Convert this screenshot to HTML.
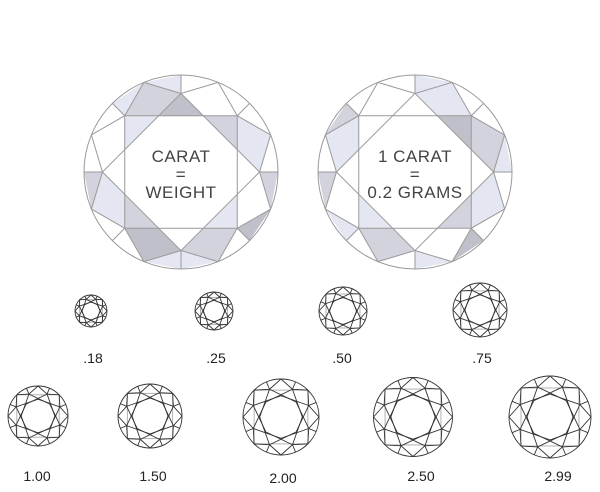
<!DOCTYPE html>
<html><head><meta charset="utf-8">
<style>
html,body{margin:0;padding:0;background:#fff;}
svg{display:block}
.lbl{font-family:"Liberation Sans",sans-serif;font-size:14px;fill:#222;text-anchor:middle}
.big{font-family:"Liberation Sans",sans-serif;font-size:17px;fill:#444;text-anchor:middle;letter-spacing:0.5px}
</style></head><body>
<svg id="s" width="600" height="492" viewBox="0 0 600 492" xmlns="http://www.w3.org/2000/svg">
<g id="g"></g>
<text class="big" x="181" y="162">CARAT</text>
<text class="big" x="181" y="180">=</text>
<text class="big" x="181" y="198">WEIGHT</text>
<text class="big" x="415" y="162">1 CARAT</text>
<text class="big" x="415" y="180">=</text>
<text class="big" x="415" y="198">0.2 GRAMS</text>
<text class="lbl" x="93" y="363">.18</text>
<text class="lbl" x="216" y="363">.25</text>
<text class="lbl" x="342" y="363">.50</text>
<text class="lbl" x="482" y="363">.75</text>
<text class="lbl" x="37" y="481">1.00</text>
<text class="lbl" x="153" y="481">1.50</text>
<text class="lbl" x="283" y="483">2.00</text>
<text class="lbl" x="421" y="481">2.50</text>
<text class="lbl" x="558" y="481">2.99</text>
</svg>
<script>
var g=document.getElementById('g');var NS='http://www.w3.org/2000/svg';
function el(t,a){var e=document.createElementNS(NS,t);for(var k in a)e.setAttribute(k,a[k]);g.appendChild(e);return e;}
function P(pts){return pts.map(function(p){return p[0].toFixed(2)+','+p[1].toFixed(2)}).join(' ');}
function pol(cx,cy,rad,deg){var a=deg*Math.PI/180;return [cx+rad*Math.sin(a),cy-rad*Math.cos(a)];}
function diamond(cx,cy,r,stroke,sw,fills){
 var s=0.58*r,d=0.81*r;
 function C(deg){return pol(cx,cy,r,deg);}
 function V(i){if(i%2==0)return pol(cx,cy,d,i*45);return pol(cx,cy,s*Math.SQRT2,i*45);}
 function I(i){var rr=Math.sqrt(s*s+(d-s)*(d-s));return pol(cx,cy,rr,i*45+22.5);}
 var shapes={
  K:function(i){return [V(i),C(i*45+22.5),V((i+1)%8),I(i)];},
  GL:function(i){return [V(i),C(i*45),C(i*45-22.5)];},
  GR:function(i){return [V(i),C(i*45),C(i*45+22.5)];},
  T:function(i){return [V(i),I(i),I((i+7)%8)];}
 };
 (fills||[]).forEach(function(f){el('polygon',{points:P(shapes[f[0]](f[1])),fill:f[2],stroke:'none'});});
 var o={fill:'none',stroke:stroke,'stroke-width':sw};
 el('circle',Object.assign({cx:cx,cy:cy,r:r},o));
 el('rect',Object.assign({x:cx-s,y:cy-s,width:2*s,height:2*s},o));
 el('polygon',Object.assign({points:P([V(0),V(2),V(4),V(6)])},o));
 for(var i=0;i<8;i++){var v=V(i);
  el('polyline',Object.assign({points:P([C(i*45-22.5),v,C(i*45+22.5)])},o));
  el('line',Object.assign({x1:v[0],y1:v[1],x2:C(i*45)[0],y2:C(i*45)[1]},o));}
}
function small(cx,cy,r){
 var sq=0.707*r;
 el('rect',{x:cx-sq,y:cy-sq,width:2*sq,height:2*sq,fill:'none',stroke:'#aaa','stroke-width':0.9});
 var o={fill:'none',stroke:'#333','stroke-width':0.9};
 el('circle',Object.assign({cx:cx,cy:cy,r:r},o));
 for(var k=0;k<8;k++){
  var t=pol(cx,cy,0.56*r,k*45);
  var a=pol(cx,cy,0.79*r,k*45+67.5),b=pol(cx,cy,0.79*r,k*45-67.5);
  el('polyline',Object.assign({points:P([a,t,b])},o));
  var m=pol(cx,cy,0.79*r,k*45+22.5);
  el('polyline',Object.assign({points:P([pol(cx,cy,r,k*45),m,pol(cx,cy,r,k*45+45)])},o));
  var c=pol(cx,cy,r,k*45+22.5);
  el('line',Object.assign({x1:m[0],y1:m[1],x2:c[0],y2:c[1]},o));}
}
var L='#e4e6f1',M='#d2d3dc',D='#bfc0c9';
diamond(181,172,97,'#9a9a9a',1,[
 ['K',7,M],['T',0,D],['GL',0,L],['T',1,M],['K',1,L],['GR',2,M],['GL',3,D],
 ['GL',6,M],['T',7,L],['GR',7,L],['K',5,L],['T',5,M],['K',4,D],['GR',4,L],['GL',4,L],['K',3,M],['T',3,L]
]);
diamond(415,172,97,'#9a9a9a',1,[
 ['GL',7,M],['K',0,L],['T',1,D],['GR',0,L],['GL',2,L],['K',1,M],['K',6,L],['GL',6,M],['T',5,L],['K',4,M],['GL',4,L],['GR',3,D],['T',3,M],['K',2,L],['GR',5,L]
]);
var sm=[[91,311,16],[214,311,19],[343,311,24],[480,310,27],[38,416,30],[150,416,32],[281,417,38],[413,417,39.5],[550,417,41]];
sm.forEach(function(a){small(a[0],a[1],a[2]);});
</script>
</body></html>
